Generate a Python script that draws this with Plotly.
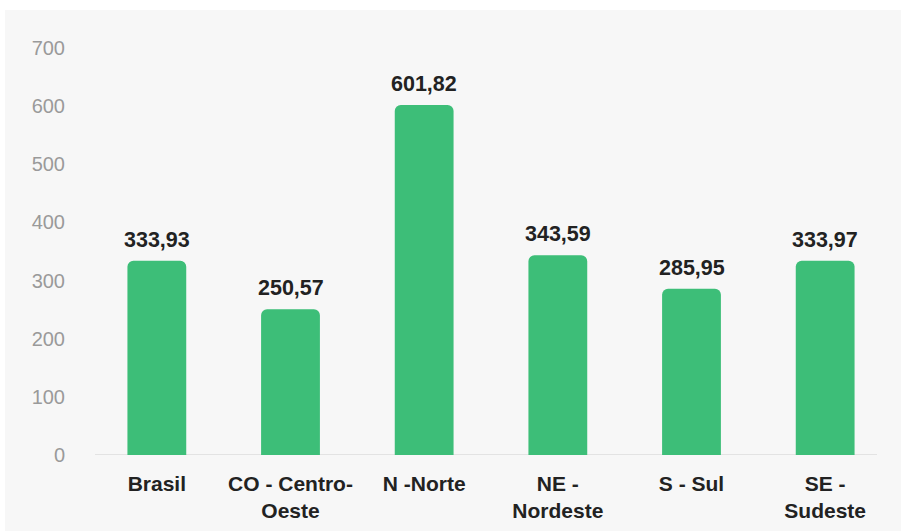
import plotly.graph_objects as go

# Regional values (Brazilian number format for labels)
regions = ["Brasil", "CO - Centro-<br>Oeste", "N -Norte", "NE -<br>Nordeste", "S - Sul", "SE -<br>Sudeste"]
values = [333.93, 250.57, 601.82, 343.59, 285.95, 333.97]
y_ticks = [0, 100, 200, 300, 400, 500, 600, 700]

BAR_COLOR = "#3dbe78"
FONT = "Liberation Sans, Arial, Helvetica, sans-serif"

W, H = 901, 531
L, R, T, B = 90, 9, 48, 76
plot_w = W - L - R
plot_h = H - T - B


def px_x(px):
    return (px - L) / plot_w


def px_y(py):
    return (H - B - py) / plot_h


def fmt(v):
    return f"{v:.2f}".replace(".", ",")


fig = go.Figure(
    go.Bar(
        x=regions,
        y=values,
        marker=dict(color=BAR_COLOR, line=dict(width=0)),
        hoverinfo="skip",
    )
)

# value labels above the bars
for r, v in zip(regions, values):
    fig.add_annotation(
        x=r, y=v, text=f"<b>{fmt(v)}</b>", showarrow=False,
        yanchor="bottom", yshift=7,
        font=dict(family=FONT, size=21.5, color="#222222"),
    )

shapes = [
    # light grey panel behind the chart
    dict(type="rect", xref="paper", yref="paper",
         x0=px_x(5), x1=px_x(W), y0=px_y(H), y1=px_y(10),
         fillcolor="#f7f7f7", line=dict(width=0), layer="below"),
    # baseline
    dict(type="line", xref="paper", yref="y",
         x0=px_x(95), x1=px_x(877), y0=0, y1=0,
         line=dict(color="#dcdcdc", width=1.5), layer="below"),
]

fig.update_layout(
    width=W, height=H,
    margin=dict(l=L, r=R, t=T, b=B, pad=0),
    paper_bgcolor="#ffffff",
    plot_bgcolor="rgba(0,0,0,0)",
    bargap=0.56,
    barcornerradius=6,
    showlegend=False,
    shapes=shapes,
    font=dict(family=FONT),
    xaxis=dict(
        showgrid=False, zeroline=False, showline=False, ticks="",
        tickfont=dict(family=FONT, size=21, color="#222222"),
        ticklabelstandoff=14,
        range=[-0.5, 5.5],
        tickprefix="<b>", ticksuffix="</b>",
    ),
    yaxis=dict(
        range=[0, 700], tickvals=y_ticks,
        showgrid=False, zeroline=False, showline=False, ticks="",
        tickfont=dict(family=FONT, size=20, color="#9a9a9a"),
        ticklabelstandoff=24,
    ),
)

fig.write_html("out.html")
